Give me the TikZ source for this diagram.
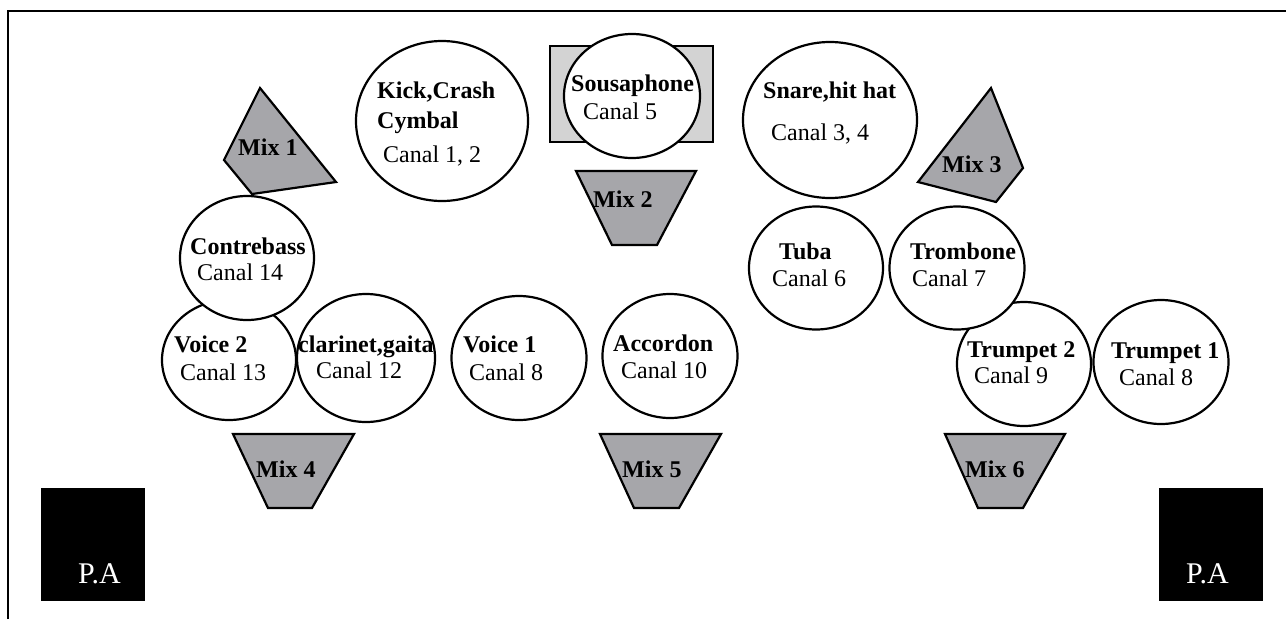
\documentclass[tikz,border=0pt]{standalone}
\usepackage{fontspec}
\setmainfont{Liberation Serif}
\usetikzlibrary{shapes.geometric}
\definecolor{mixgray}{RGB}{166,166,170}
\definecolor{lightgray2}{RGB}{211,211,211}
\tikzset{
  inst/.style={ellipse, draw, fill=white, line width=2.2pt, inner sep=0pt},
  mixshape/.style={draw, fill=mixgray, line width=2.2pt, line join=miter},
  lbl/.style={anchor=base west, inner sep=0pt, font=\fontsize{24}{26}\selectfont\bfseries},
  can/.style={anchor=base west, inner sep=0pt, font=\fontsize{24}{26}\selectfont},
  patext/.style={anchor=base west, inner sep=0pt, text=white, font=\fontsize{30}{32}\selectfont},
  pa/.style={fill=black, draw=none},
}
\begin{document}
\begin{tikzpicture}[x=1pt,y=-1pt]
\useasboundingbox (0,0) rectangle (1286,619);
% frame
\draw[line width=2.2pt] (8,619) -- (8,11) -- (1286,11);

% Mix 1
\draw[mixshape] (260,88) -- (336,182) -- (252,194) -- (224,160) -- cycle;
\node[lbl] (m1) at (238,155) {Mix 1};

% Kick
\node[inst, minimum width=172pt, minimum height=160pt] (kick) at (442,121) {};
\node[lbl] (kickt) at (377,98) {Kick,Crash};
\node[lbl] (cymt) at (377,128) {Cymbal};
\node[can] (kickc) at (383,162) {Canal 1, 2};

% Sousaphone
\draw[fill=lightgray2, line width=2.2pt] (550,46) rectangle (713,142);
\node[inst, minimum width=136pt, minimum height=124pt] (sousa) at (632,96) {};
\node[lbl] (sousat) at (571,91) {Sousaphone};
\node[can] (sousac) at (583,119) {Canal 5};

% Mix 2
\draw[mixshape] (576,171) -- (696,171) -- (657,245) -- (612,245) -- cycle;
\node[lbl] (m2) at (593,207) {Mix 2};

% Snare
\node[inst, minimum width=174pt, minimum height=156pt] (snare) at (830,120) {};
\node[lbl] (snaret) at (763,98) {Snare,hit hat};
\node[can] (snarec) at (771,140) {Canal 3, 4};

% Mix 3
\draw[mixshape] (991,88) -- (1023,168) -- (996,202) -- (918,182) -- cycle;
\node[lbl] (m3) at (942,172) {Mix 3};

% Voice 2 (below contrebass)
\node[inst, minimum width=134pt, minimum height=120pt] (voice2) at (229,360) {};
% Contrebass
\node[inst, minimum width=134pt, minimum height=124pt] (contre) at (247,258) {};
\node[lbl] (contret) at (190,254) {Contrebass};
\node[can] (contrec) at (197,280) {Canal 14};
\node[lbl] (voice2t) at (174,352) {Voice 2};
\node[can] (voice2c) at (180,380) {Canal 13};

% clarinet
\node[inst, minimum width=138pt, minimum height=128pt] (clar) at (366,358) {};
\node[lbl] (clart) at (298,352) {clarinet,gaita};
\node[can] (clarc) at (316,378) {Canal 12};

% Mix 4
\draw[mixshape] (233,434) -- (354,434) -- (312,508) -- (268,508) -- cycle;
\node[lbl] (m4) at (256,477) {Mix 4};

% Voice 1
\node[inst, minimum width=135pt, minimum height=124pt] (voice1) at (519,358) {};
\node[lbl] (voice1t) at (463,352) {Voice 1};
\node[can] (voice1c) at (469,380) {Canal 8};

% Accordon
\node[inst, minimum width=135pt, minimum height=124pt] (acc) at (670,356) {};
\node[lbl] (acct) at (613,351) {Accordon};
\node[can] (accc) at (621,378) {Canal 10};

% Mix 5
\draw[mixshape] (600,434) -- (721,434) -- (679,508) -- (634,508) -- cycle;
\node[lbl] (m5) at (622,477) {Mix 5};

% Tuba
\node[inst, minimum width=134pt, minimum height=123pt] (tuba) at (816,268) {};
\node[lbl] (tubat) at (779,259) {Tuba};
\node[can] (tubac) at (772,286) {Canal 6};

% Trumpet 2 (below trombone)
\node[inst, minimum width=134pt, minimum height=124pt] (tp2) at (1024,364) {};
% Trombone
\node[inst, minimum width=135pt, minimum height=123pt] (tromb) at (957,268) {};
\node[lbl] (trombt) at (910,259) {Trombone};
\node[can] (trombc) at (912,286) {Canal 7};
\node[lbl] (tp2t) at (967,357) {Trumpet 2};
\node[can] (tp2c) at (974,383) {Canal 9};

% Trumpet 1
\node[inst, minimum width=135pt, minimum height=124pt] (tp1) at (1161,362) {};
\node[lbl] (tp1t) at (1111,358) {Trumpet 1};
\node[can] (tp1c) at (1119,385) {Canal 8};

% Mix 6
\draw[mixshape] (945,434) -- (1065,434) -- (1023,508) -- (978,508) -- cycle;
\node[lbl] (m6) at (965,477) {Mix 6};

% P.A boxes
\fill[pa] (41,488) rectangle (145,601);
\node[patext] (pal) at (78,583) {P.A};
\fill[pa] (1159,488) rectangle (1263,601);
\node[patext] (par) at (1186,583) {P.A};
\end{tikzpicture}
\end{document}
